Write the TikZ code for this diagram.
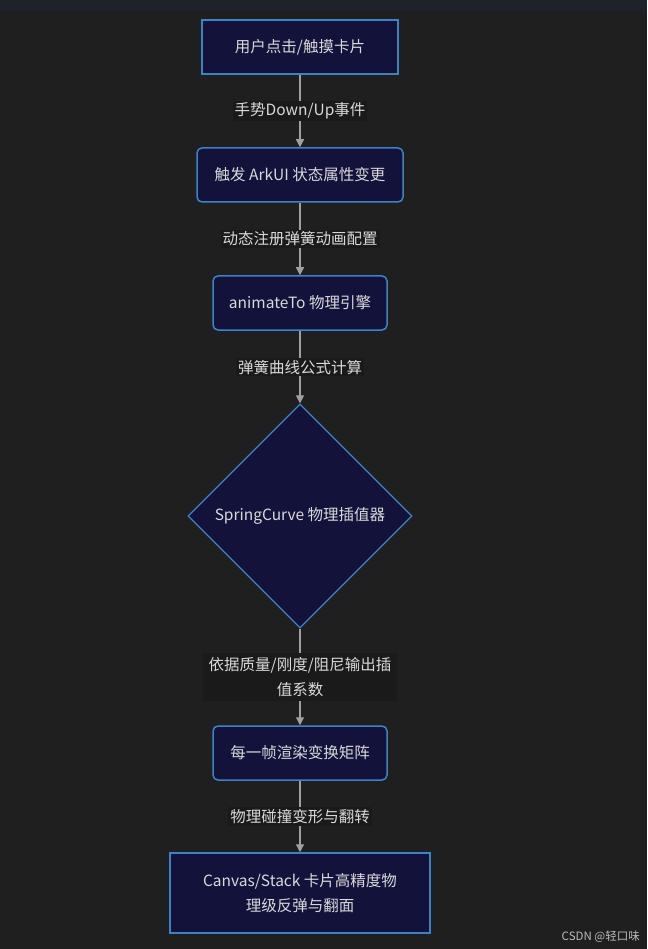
\documentclass[tikz,border=0pt]{standalone}
\usepackage{fontspec}
\setmainfont{Noto Sans CJK SC}
\usetikzlibrary{arrows.meta,shapes.geometric}
\definecolor{bg}{HTML}{1F1F1F}
\definecolor{topbar}{HTML}{1E232A}
\definecolor{nodefill}{HTML}{13123A}
\definecolor{nodeborder}{HTML}{3A84C4}
\definecolor{edgecol}{HTML}{A0A0A0}
\definecolor{txt}{HTML}{D9D9D9}
\definecolor{lblbg}{HTML}{1A1A1A}
\definecolor{wm}{HTML}{BBBBBB}
\begin{document}
\begin{tikzpicture}[x=1pt,y=-1pt,
  box/.style={draw=nodeborder,fill=nodefill,line width=1.5pt,text=txt,
    font=\fontsize{15.5}{25}\selectfont,align=center,inner sep=0pt,minimum height=54pt},
  rbox/.style={box,rounded corners=5pt},
  dia/.style={diamond,draw=nodeborder,fill=nodefill,line width=1.2pt,text=txt,
    font=\fontsize{15.5}{25}\selectfont,inner sep=0pt,minimum width=224pt,minimum height=224pt},
  lbl/.style={fill=lblbg,text=txt,font=\fontsize{15.5}{25}\selectfont,align=center,inner sep=2pt},
  edge/.style={draw=edgecol,line width=1.2pt,-{Triangle[length=8pt,width=8pt]}}]
\fill[bg] (0,0) rectangle (647,949);
\useasboundingbox (0,0) rectangle (647,949);
\fill[topbar] (0,0) rectangle (647,11);

\node[box,minimum width=196pt] (n1) at (300,47) {用户点击/触摸卡片};
\node[rbox,minimum width=206pt] (n2) at (300,175) {触发 ArkUI 状态属性变更};
\node[rbox,minimum width=174pt] (n3) at (300,303) {animateTo 物理引擎};
\node[dia] (n4) at (300,516) {SpringCurve 物理插值器};
\node[rbox,minimum width=174pt] (n5) at (300,753) {每一帧渲染变换矩阵};
\node[box,minimum width=260pt,minimum height=80pt] (n6) at (300,893) {Canvas/Stack 卡片高精度物\\理级反弹与翻面};

\draw[edge] (n1) -- node[lbl] {手势Down/Up事件} (n2);
\draw[edge] (n2) -- node[lbl] {动态注册弹簧动画配置} (n3);
\draw[edge] (n3) -- node[lbl] {弹簧曲线公式计算} (n4);
\draw[edge] (n4) -- node[lbl,inner xsep=6pt,inner ysep=4pt] {依据质量/刚度/阻尼输出插\\值系数} (n5);
\draw[edge] (n5) -- node[lbl] {物理碰撞变形与翻转} (n6);

\node[text=wm,font=\fontsize{11.5}{14}\selectfont,anchor=east,inner sep=0pt] (wm) at (640,937) {CSDN @轻口味};
\end{tikzpicture}
\end{document}
